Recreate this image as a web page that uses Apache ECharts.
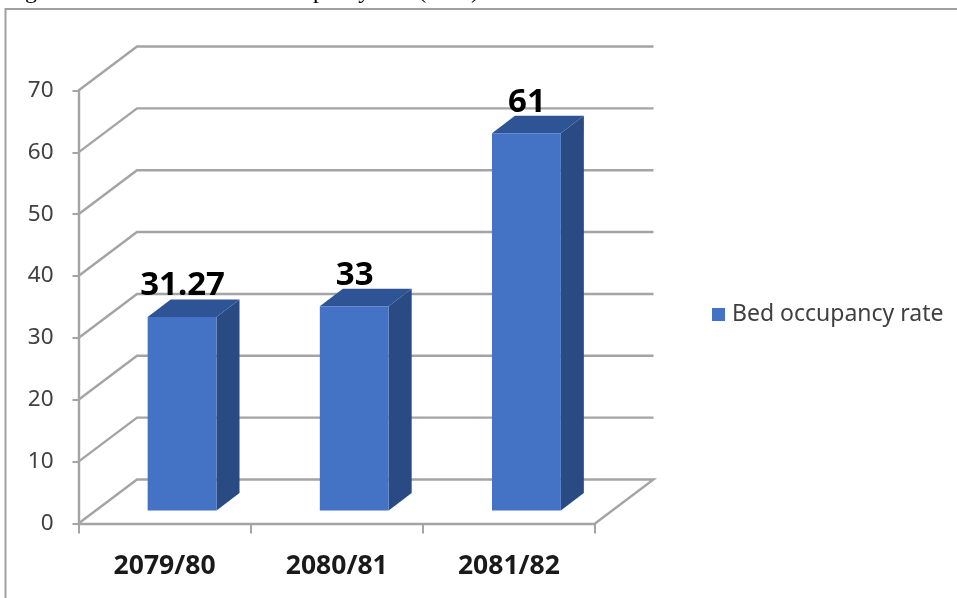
<!DOCTYPE html>
<html>
<head>
<meta charset="utf-8">
<style>html,body{margin:0;padding:0;background:#fff}#c{width:957px;height:598px}</style>
<script src="https://cdn.jsdelivr.net/npm/echarts@6/dist/echarts.min.js"></script>
</head>
<body>
<div id="c"></div>
<script>
const categories = ['2079/80', '2080/81', '2081/82'];
const occupancy = [31.27, 33, 61];
const dataLabels = ['31.27', '33', '61'];
const seriesName = 'Bed occupancy rate';
const yTicks = [0, 10, 20, 30, 40, 50, 60, 70];

const WALL = [58.5, -44];    // depth of the 3D box
const BAR_START = [17.5, -13]; // where the bar front sits inside the box
const BAR_DEPTH = [23, -17.5]; // thickness of each bar
const BAR_FRACTION = 0.4;
const GRID_COLOR = '#a4a4a4';

function renderWall(params, api) {
  const v = api.value(1);
  const band = api.size([1, 0])[0];
  const p0 = api.coord([0, v]);
  const p2 = api.coord([categories.length - 1, v]);
  const left = p0[0] - band / 2, right = p2[0] + band / 2, y = p0[1];
  const pts = [[left, y], [left + WALL[0], y + WALL[1]], [right + WALL[0], y + WALL[1]]];
  if (v === 0) pts.push([right, y]);
  return { type: 'polyline', shape: { points: pts }, style: { fill: null, stroke: GRID_COLOR, lineWidth: 2.4 } };
}

function renderBar(params, api) {
  const i = api.value(0), v = api.value(1);
  const band = api.size([1, 0])[0];
  const w = band * BAR_FRACTION;
  const top = api.coord([i, v]), base = api.coord([i, 0]);
  const x0 = top[0] - w / 2 + BAR_START[0], x1 = x0 + w;
  const yT = top[1] + BAR_START[1], yB = base[1] + BAR_START[1];
  const dx = BAR_DEPTH[0], dy = BAR_DEPTH[1];
  return {
    type: 'group',
    children: [
      { type: 'polygon', shape: { points: [[x1, yT], [x1 + dx, yT + dy], [x1 + dx, yB + dy], [x1, yB]] }, style: { fill: '#2a4a84' } },
      { type: 'polygon', shape: { points: [[x0, yT], [x0 + dx, yT + dy], [x1 + dx, yT + dy], [x1, yT]] }, style: { fill: '#2f5496' } },
      { type: 'rect', shape: { x: x0, y: yT, width: w, height: yB - yT }, style: { fill: '#4472c4' } },
      { type: 'text', style: { text: dataLabels[i], x: (x0 + x1) / 2 + 0.5, y: yT - 31, textAlign: 'center', textVerticalAlign: 'middle', fill: '#000', font: 'bold 33px "Noto Sans"' } }
    ]
  };
}

const chart = echarts.init(document.getElementById('c'), null, { renderer: 'canvas' });
chart.setOption({
  animation: false,
  backgroundColor: '#fff',
  grid: { left: 78.5, top: 90.5, width: 516.5, height: 433 },
  legend: {
    data: [seriesName], left: 707, top: 298, icon: 'rect', itemWidth: 13, itemHeight: 13, itemGap: 5,
    textStyle: { fontFamily: 'Noto Sans', fontSize: 23, color: '#404040', padding: [0, 0, 0, 2] }
  },
  xAxis: {
    type: 'category', data: categories,
    axisLine: { lineStyle: { color: GRID_COLOR, width: 2.4 } },
    axisTick: { show: true, length: 10, alignWithLabel: false, lineStyle: { color: GRID_COLOR, width: 2 } },
    axisLabel: { interval: 0, margin: 29, fontFamily: 'Noto Sans', fontWeight: 'bold', fontSize: 26.5, color: '#1a1a1a' }
  },
  yAxis: {
    type: 'value', min: 0, max: 70, interval: 10,
    axisLine: { show: true, lineStyle: { color: GRID_COLOR, width: 2.4 } },
    axisTick: { show: true, length: 6, lineStyle: { color: GRID_COLOR, width: 2 } },
    splitLine: { show: false },
    axisLabel: { margin: 25, fontFamily: 'Noto Sans', fontSize: 22.5, color: '#404040', padding: [7, 0, 0, 0] }
  },
  series: [
    { type: 'custom', name: 'wall', silent: true, renderItem: renderWall, data: yTicks.map(v => [0, v]), encode: { x: 0, y: 1 }, z: 1 },
    { type: 'custom', name: seriesName, silent: true, renderItem: renderBar, itemStyle: { color: '#4472c4' }, data: occupancy.map((v, i) => [i, v]), encode: { x: 0, y: 1 }, z: 2 }
  ],
  graphic: [
    { type: 'polyline', silent: true, shape: { points: [[5.5, 598], [5.5, 9], [957, 9]] }, style: { fill: null, stroke: '#a0a0a0', lineWidth: 2 } },
    { type: 'text', silent: true, style: { text: 'Figure', x: 5, y: -8, textVerticalAlign: 'middle', fill: '#000', font: '24px "Liberation Serif"' } },
    { type: 'text', silent: true, style: { text: 'Bed occupancy rate (in %)', x: 223, y: -8, textVerticalAlign: 'middle', fill: '#000', font: '24px "Liberation Serif"' } }
  ]
});
</script>
</body>
</html>
